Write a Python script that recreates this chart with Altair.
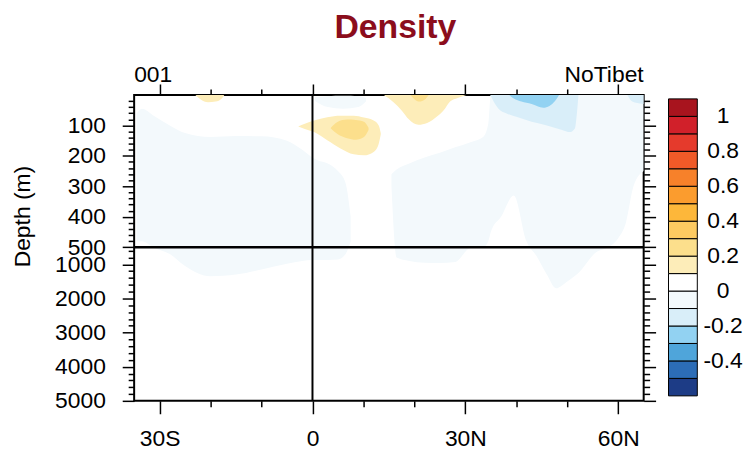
import altair as alt
import pandas as pd
import bisect

FONT = "Liberation Sans"

# ---- contour levels and colours (colour bar) ----
LEVELS = [-0.5, -0.4, -0.3, -0.2, -0.1, 0.0, 0.1, 0.2, 0.3, 0.4, 0.5, 0.6, 0.7, 0.8, 0.9, 1.0]
COLORS = ["#1d3c86", "#2c6db7", "#4fa5da", "#92d2f2", "#d9eef9", "#f3f9fc", "#ffffff",
          "#fdedb9", "#fcdf8c", "#fdca61", "#fdb73a", "#fb9c2e", "#f7812a", "#f05a28",
          "#e53a2c", "#d1202a", "#a8141e"]
CB_LABEL_VALUES = [-0.4, -0.2, 0.0, 0.2, 0.4, 0.6, 0.8, 1.0]
CB_LABELS = ["-0.4", "-0.2", "0", "0.2", "0.4", "0.6", "0.8", "1"]

# ---- axis ticks ----
X_MAJOR = [-30, 0, 30, 60]
X_MINOR = [-20, -10, 10, 20, 40, 50]
Y_MAJOR = [100, 200, 300, 400, 500, 1000, 2000, 3000, 4000, 5000]
Y_MINOR = [20, 40, 60, 80, 120, 140, 160, 180, 220, 240, 260, 280, 320, 340, 360, 380,
           420, 440, 460, 480, 600, 800, 1200, 1400, 1600, 1800, 2200, 2400, 2600, 2800,
           3200, 3400, 3600, 3800, 4200, 4400, 4600, 4800]

# ---- filled contour regions: latitude, top depth, bottom depth (m) ----
# faint negative regions (-0.1 .. 0)
S1_LAT = [-34.5, -33.5, -31.0, -28.0, -25.0, -20.0, -15.0, -10.0, -5.0, -2.0, 0.0, 1.0, 3.0, 5.0, 6.5, 7.5]
S1_TOP = [60, 45, 70, 100, 125, 138, 135, 136, 150, 180, 205, 214, 225, 250, 290, 400]
S1_BOT = [480, 480, 520, 700, 1050, 1350, 1300, 1150, 980, 900, 870, 870, 870, 860, 700, 480]

S2_LAT = [15.5, 16.5, 19.0, 22.0, 25.0, 28.0, 31.0, 33.5, 34.5, 35.0, 37.0, 39.5, 42.0, 44.0,
          46.0, 47.8, 50.0, 52.3, 55.6, 58.0, 60.0, 61.5, 63.0, 65.0]
S2_TOP = [260, 245, 225, 205, 190, 172, 155, 138, 95, 0, 0, 0, 0, 0,
          0, 0, 0, 0, 0, 0, 0, 0, 0, 0]
S2_BOT = [300, 800, 900, 950, 960, 930, 520, 500, 480, 450, 400, 330, 480, 760,
          1300, 1700, 1500, 1236, 655, 500, 470, 420, 300, 250]

S4_LAT = [0.5, 3.0, 6.0, 9.0, 10.5]
S4_TOP = [8, 4, 3, 4, 10]
S4_BOT = [20, 40, 45, 40, 22]

# positive 0.1 .. 0.2
A_LAT = [-23.0, -22.0, -20.5, -19.0, -17.8, -17.3]
A_TOP = [0, 0, 0, 0, 0, 0]
A_BOT = [0, 14, 24, 22, 12, 0]

B1_LAT = [-2.8, -1.5, 0.3, 2.9, 5.5, 8.1, 10.1, 12.0, 13.0, 13.4]
B1_TOP = [104, 95, 84, 73, 68, 68, 74, 84, 100, 125]
B1_BOT = [104, 112, 122, 149, 176, 195, 198, 187, 160, 130]

C1_LAT = [14.0, 15.9, 17.5, 18.9, 20.8, 22.5, 24.5, 26.0, 27.0, 28.5, 30.2]
C1_TOP = [0, 0, 0, 0, 0, 0, 0, 0, 0, 0, 0]
C1_BOT = [0, 24, 51, 80, 98, 92, 70, 45, 22, 10, 0]

# positive 0.2 .. 0.3
B2_LAT = [3.6, 4.9, 6.8, 8.5, 10.1, 11.0]
B2_TOP = [108, 89, 81, 82, 88, 108]
B2_BOT = [110, 128, 142, 147, 138, 115]

C2_LAT = [19.2, 20.0, 21.0, 22.0, 22.8]
C2_TOP = [0, 0, 0, 0, 0]
C2_BOT = [0, 14, 22, 16, 0]

# negative -0.2 .. -0.1
D1_LAT = [34.9, 35.5, 36.5, 38.0, 40.0, 43.0, 46.0, 49.0, 50.5, 51.5, 51.9, 52.2]
D1_TOP = [0, 0, 0, 0, 0, 0, 0, 0, 0, 0, 0, 0]
D1_BOT = [0, 20, 45, 60, 72, 88, 100, 115, 122, 110, 60, 0]

E1_LAT = [61.8, 62.5, 63.5, 65.0]
E1_TOP = [0, 0, 0, 0]
E1_BOT = [0, 18, 26, 30]

# negative -0.3 .. -0.2
D2_LAT = [38.6, 39.5, 41.0, 43.0, 45.3, 46.5, 47.6, 48.4]
D2_TOP = [0, 0, 0, 0, 0, 0, 0, 0]
D2_BOT = [0, 12, 22, 30, 42, 36, 20, 0]

BLOBS = [
    ("S1", -0.05, 0, S1_LAT, S1_TOP, S1_BOT),
    ("S2", -0.05, 0, S2_LAT, S2_TOP, S2_BOT),
    ("S4", -0.05, 0, S4_LAT, S4_TOP, S4_BOT),
    ("A", 0.15, 1, A_LAT, A_TOP, A_BOT),
    ("B1", 0.15, 1, B1_LAT, B1_TOP, B1_BOT),
    ("C1", 0.15, 1, C1_LAT, C1_TOP, C1_BOT),
    ("D1", -0.15, 2, D1_LAT, D1_TOP, D1_BOT),
    ("E1", -0.15, 2, E1_LAT, E1_TOP, E1_BOT),
    ("B2", 0.25, 3, B2_LAT, B2_TOP, B2_BOT),
    ("C2", 0.25, 3, C2_LAT, C2_TOP, C2_BOT),
    ("D2", -0.25, 4, D2_LAT, D2_TOP, D2_BOT),
]

CLASS_NAMES = ["c%02d" % i for i in range(len(COLORS))]


def cls_of(v):
    return CLASS_NAMES[bisect.bisect_right(LEVELS, v)]


rows = []
for name, val, tier, lats, tops, bots in BLOBS:
    for la, t, b in zip(lats, tops, bots):
        rows.append({"blob": name, "tier": tier, "cls": cls_of(val), "lat": la, "top": t, "bot": b})
field = pd.DataFrame(rows)

W, H = 513, 308
XS = alt.Scale(domain=[-35, 65], nice=False, zero=False)
YS = alt.Scale(domain=[0, 500, 5000], range=[0, 153.4, H], nice=False, zero=False)
CS = alt.Scale(domain=CLASS_NAMES, range=COLORS)

common = dict(labelFont=FONT, labelFontSize=23, labelColor="black", tickColor="black",
              tickWidth=1.5, domain=False, grid=False, labelOverlap=False)

lab_expr = ("datum.value < 0 ? (-datum.value) + 'S' : (datum.value > 0 ? datum.value + 'N' : '0')")

AX = {
    "xb": alt.Axis(orient="bottom", values=X_MAJOR, labelExpr=lab_expr, tickSize=13,
                   labelPadding=14, title=None, **common),
    "xbm": alt.Axis(orient="bottom", values=X_MINOR, labels=False, tickSize=6, title=None, **common),
    "xt": alt.Axis(orient="top", values=X_MAJOR, labels=False, tickSize=11, title=None, **common),
    "xtm": alt.Axis(orient="top", values=X_MINOR, labels=False, tickSize=6, title=None, **common),
    "yl": alt.Axis(orient="left", values=Y_MAJOR, format="d", tickSize=12, labelPadding=17,
                   labelFlush=False,
                   title="Depth (m)", titleFont=FONT, titleFontSize=23, titleFontWeight="normal",
                   titleColor="black", titleAngle=270, titleAlign="center", titleBaseline="middle",
                   titleX=-112, titleY=122, **common),
    "ylm": alt.Axis(orient="left", values=Y_MINOR, labels=False, tickSize=6, title=None, **common),
    "yr": alt.Axis(orient="right", values=Y_MAJOR, labels=False, tickSize=12, title=None, **common),
    "yrm": alt.Axis(orient="right", values=Y_MINOR, labels=False, tickSize=6, title=None, **common),
}


def tier_layer(tier, xa, ya):
    return alt.Chart(field).transform_filter(alt.datum.tier == tier).mark_area(
        interpolate="monotone", clip=True, strokeWidth=0
    ).encode(
        x=alt.X("lat:Q", scale=XS, axis=xa),
        y=alt.Y("top:Q", scale=YS, axis=ya, stack=None),
        y2="bot:Q",
        color=alt.Color("cls:N", scale=CS, legend=None),
        detail="blob:N",
    )


layers = [
    tier_layer(0, AX["xb"], AX["yl"]),
    tier_layer(1, AX["xbm"], AX["ylm"]),
    tier_layer(2, AX["xt"], AX["yr"]),
    tier_layer(3, AX["xtm"], AX["yrm"]),
    tier_layer(4, None, None),
]

vline = alt.Chart(pd.DataFrame({"lat": [0]})).mark_rule(color="black", strokeWidth=2).encode(
    x=alt.X("lat:Q", scale=XS, axis=None))
hline = alt.Chart(pd.DataFrame({"depth": [500]})).mark_rule(color="black", strokeWidth=2.5).encode(
    y=alt.Y("depth:Q", scale=YS, axis=None))

main = alt.layer(*layers, vline, hline).resolve_axis(x="independent", y="independent")

# ---- colour bar ----
edges = [-0.6] + LEVELS + [1.1]
cb = pd.DataFrame({"lo": edges[:-1], "hi": edges[1:], "cls": CLASS_NAMES})
CBY = alt.Scale(domain=[-0.6, 1.1], range=[303, 4], nice=False, zero=False)
cb_rect = alt.Chart(cb).mark_rect(stroke="black", strokeWidth=1).encode(
    x=alt.value(538), x2=alt.value(567),
    y=alt.Y("lo:Q", scale=CBY, axis=None), y2="hi:Q",
    color=alt.Color("cls:N", scale=CS, legend=None))
cb_lab = alt.Chart(pd.DataFrame({"v": CB_LABEL_VALUES, "t": CB_LABELS})).mark_text(
    font=FONT, fontSize=23, color="black", align="center", baseline="middle").encode(
    x=alt.value(593), y=alt.Y("v:Q", scale=CBY, axis=None), text="t:N")
colorbar = alt.layer(cb_rect, cb_lab)

# ---- titles ----
title = alt.Chart(pd.DataFrame({"t": ["Density"]})).mark_text(
    font=FONT, fontSize=34, fontWeight="bold", color="#8b0d1c", align="center",
    baseline="alphabetic").encode(x=alt.value(263), y=alt.value(-57), text="t:N")
left_s = alt.Chart(pd.DataFrame({"t": ["001"]})).mark_text(
    font=FONT, fontSize=23, color="black", align="left", baseline="alphabetic").encode(
    x=alt.value(0), y=alt.value(-13), text="t:N")
right_s = alt.Chart(pd.DataFrame({"t": ["NoTibet"]})).mark_text(
    font=FONT, fontSize=23, color="black", align="right", baseline="alphabetic").encode(
    x=alt.value(W), y=alt.value(-13), text="t:N")

chart = alt.layer(main, colorbar, title, left_s, right_s).resolve_scale(
    x="independent", y="independent"
).properties(
    width=W, height=H,
    autosize=alt.AutoSizeParams(type="none"),
    padding={"left": 127, "top": 86, "right": 100, "bottom": 50},
    background="white",
).configure_view(stroke="black", strokeWidth=2)

chart.save("out.html", embed_options={"renderer": "svg", "actions": False})
